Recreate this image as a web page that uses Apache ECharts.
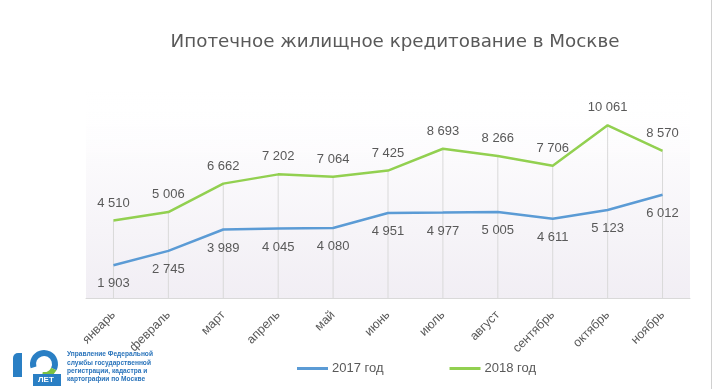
<!DOCTYPE html>
<html><head><meta charset="utf-8">
<script src="https://cdn.jsdelivr.net/npm/echarts@6/dist/echarts.min.js"></script>
<style>html,body{margin:0;padding:0;background:#fff}#c{width:713px;height:389px}</style>
</head><body><div id="c"></div>
<script>
var categories = ['январь','февраль','март','апрель','май','июнь','июль','август','сентябрь','октябрь','ноябрь'];
var values2017 = [1903, 2745, 3989, 4045, 4080, 4951, 4977, 5005, 4611, 5123, 6012];
var values2018 = [4510, 5006, 6662, 7202, 7064, 7425, 8693, 8266, 7706, 10061, 8570];
var seriesNames = ['2017 год', '2018 год'];
var titleText = 'Ипотечное жилищное кредитование в Москве';
var logoLines = ['Управление Федеральной', 'службы государственной', 'регистрации, кадастра и', 'картографии по Москве'];

function fmt(v){ return String(v).replace(/\B(?=(\d{3})+(?!\d))/g, ' '); }
var FONT = 'Liberation Sans';
var chart = echarts.init(document.getElementById('c'));
var logoText = logoLines.map(function(t,i){
  return {type:'text', left:67, top:351 + i*8.3, style:{text:t, fill:'#2a74bb', font:'bold 6.6px "Liberation Sans"'}};
});
chart.setOption({
  animation:false,
  textStyle:{fontFamily:FONT},
  title:{text:titleText, left:390, top:28, textAlign:'center',
    textStyle:{fontSize:18.3, fontWeight:'normal', color:'#595959', fontFamily:'DejaVu Sans'}},
  legend:{data:seriesNames, left:292, top:357, icon:'rect', itemWidth:31, itemHeight:3, itemGap:66,
    textStyle:{fontSize:13, color:'#595959', fontFamily:FONT, padding:[0,0,0,-1]}},
  grid:[
    {left:86, right:23, top:92, bottom:91, show:true, borderWidth:0,
     backgroundColor:new echarts.graphic.LinearGradient(0,0,0,1,[{offset:0,color:'rgba(255,255,255,0)'},{offset:0.35,color:'#fbfafc'},{offset:1,color:'#f1eef4'}])}
  ],
  xAxis:[{type:'category', data:categories, boundaryGap:true,
    axisLine:{show:true, lineStyle:{color:'#d9d9d9', width:1}},
    axisTick:{show:false}, splitLine:{show:false},
    axisLabel:{rotate:45, fontSize:12.5, color:'#595959', margin:15, interval:0, fontFamily:FONT}}],
  yAxis:[{type:'value', min:0, max:12000, show:false, splitLine:{show:false}}],
  series:[
    {name:'drop', type:'bar', data:values2018, barWidth:1, silent:true, z:1,
     itemStyle:{color:'#d9d9d9'}, legendHoverLink:false, tooltip:{show:false}},
    {name:seriesNames[0], type:'line', data:values2017, z:3, symbol:'circle', symbolSize:0.01, showSymbol:true, smooth:false,
     itemStyle:{color:'#5b9bd5'}, lineStyle:{color:'#5b9bd5', width:2.5},
     label:{show:true, position:'bottom', distance:12, fontSize:13, color:'#595959', fontFamily:FONT,
       formatter:function(p){return fmt(p.value);}}},
    {name:seriesNames[1], type:'line', data:values2018, z:3, symbol:'circle', symbolSize:0.01, showSymbol:true, smooth:false,
     itemStyle:{color:'#92d050'}, lineStyle:{color:'#92d050', width:2.5},
     label:{show:true, position:'top', distance:11, fontSize:13, color:'#595959', fontFamily:FONT,
       formatter:function(p){return fmt(p.value);}}}
  ],
  graphic:[
    {type:'line', shape:{x1:711.5,y1:0,x2:711.5,y2:389}, style:{stroke:'#d0d0d0', lineWidth:1}},
    {type:'rect', shape:{x:13,y:353,width:9,height:24, r:[5,0,0,0]}, style:{fill:'#2a7fc4'}},
    {type:'arc', shape:{cx:44,cy:364,r:11,startAngle:Math.PI*0.9,endAngle:Math.PI*2.15}, style:{stroke:'#2a7fc4', lineWidth:6, fill:'none'}},
    {type:'arc', shape:{cx:44,cy:364,r:11,startAngle:Math.PI*0.15,endAngle:Math.PI*0.55}, style:{stroke:'#7dc242', lineWidth:6, fill:'none'}},
    {type:'rect', shape:{x:33,y:374,width:28,height:12}, style:{fill:'#2a7fc4'}},
    {type:'text', left:38, top:376, style:{text:'ЛЕТ', fill:'#fff', font:'bold 8px "Liberation Sans"'}}
  ].concat(logoText)
});
</script></body></html>
